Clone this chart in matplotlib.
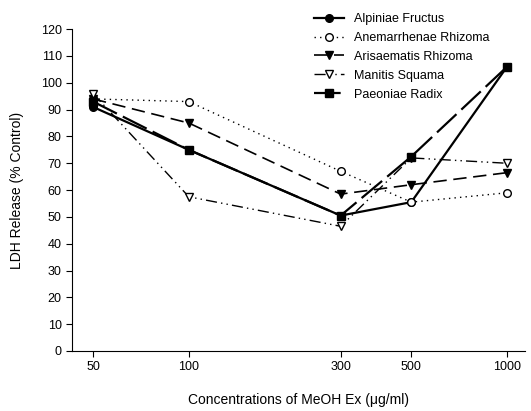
import matplotlib.pyplot as plt

plt.rcParams.update({
    'font.family': 'sans-serif',
    'font.sans-serif': ['Liberation Sans', 'Arial', 'DejaVu Sans'],
    'font.size': 9,
})

# Data
concentrations = [50, 100, 300, 500, 1000]
alpiniae = [91, 75, 50.5, 55.5, 106]
anemarrhenae = [94, 93, 67, 55.5, 59]
arisaematis = [94, 85, 58.5, 62, 66.5]
manitis = [96, 57.5, 46.5, 72, 70]
paeoniae = [93, 75, 50.5, 72.5, 106]

fig = plt.figure(figsize=(5.31, 4.11), dpi=100)
ax = fig.add_axes([0.136, 0.146, 0.853, 0.783])

ax.plot(concentrations, alpiniae, color='black', linestyle='-', linewidth=1.6,
        marker='o', markersize=5.5, markerfacecolor='black', label='Alpiniae Fructus')
ax.plot(concentrations, anemarrhenae, color='black', linestyle=(0, (1, 3)), linewidth=1.0,
        marker='o', markersize=5.5, markerfacecolor='white', label='Anemarrhenae Rhizoma')
ax.plot(concentrations, arisaematis, color='black', linestyle=(0, (8, 4)), linewidth=1.2,
        marker='v', markersize=6, markerfacecolor='black', label='Arisaematis Rhizoma')
ax.plot(concentrations, manitis, color='black', linestyle=(0, (8, 3, 1, 3, 1, 3)), linewidth=1.0,
        marker='v', markersize=6, markerfacecolor='white', label='Manitis Squama')
ax.plot(concentrations, paeoniae, color='black', linestyle=(0, (12, 3)), linewidth=1.6,
        marker='s', markersize=5.5, markerfacecolor='black', label='Paeoniae Radix')

ax.set_xscale('log')
ax.set_xlim(43, 1140)
ax.set_xticks(concentrations)
ax.set_xticklabels([str(c) for c in concentrations])
ax.minorticks_off()
ax.set_ylim(0, 120)
ax.set_yticks(range(0, 121, 10))

ax.spines['top'].set_visible(False)
ax.spines['right'].set_visible(False)
ax.tick_params(direction='out', length=4)

ax.set_xlabel('Concentrations of MeOH Ex (\u03bcg/ml)', fontsize=10, labelpad=14)
ax.set_ylabel('LDH Release (% Control)', fontsize=10, labelpad=12)

ax.legend(loc='upper left', bbox_to_anchor=(0.51, 1.085), frameon=False,
          handlelength=2.4, fontsize=9, labelspacing=0.55)

plt.savefig('out.png', dpi=100)
plt.close()
